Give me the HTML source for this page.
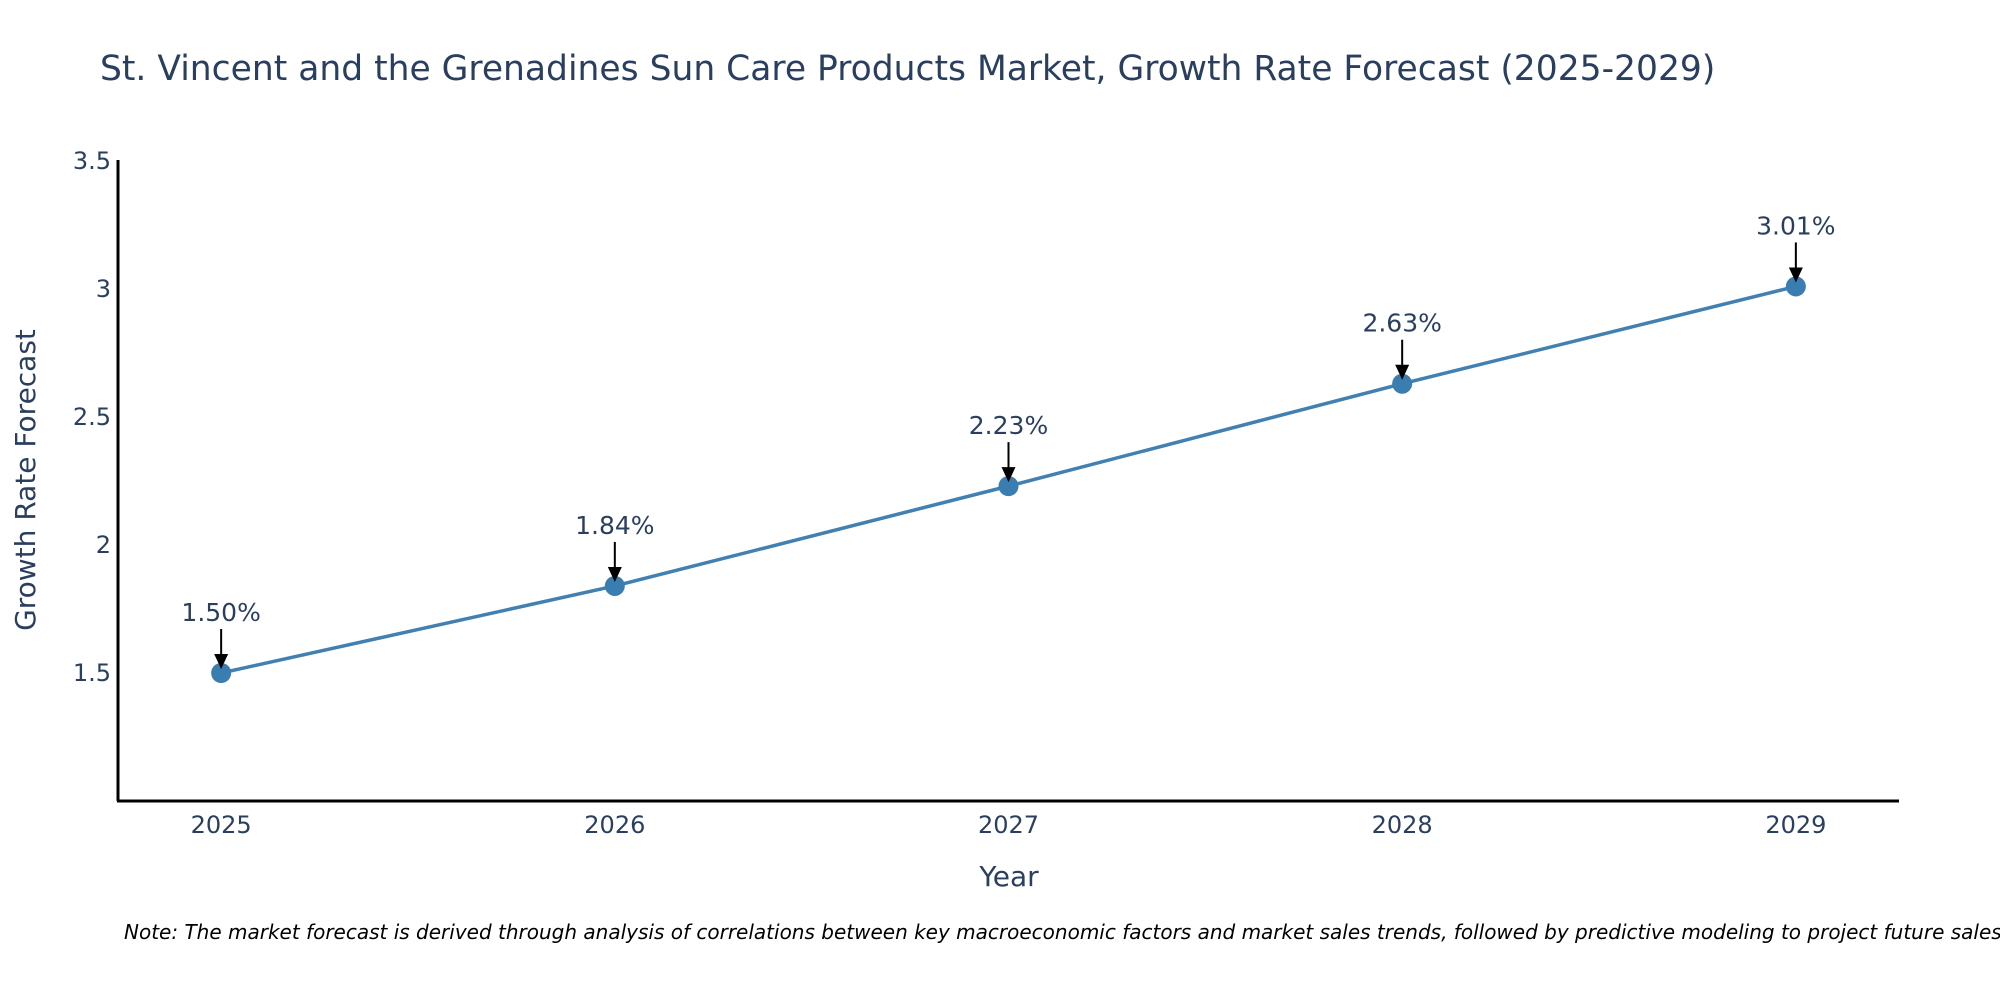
<!DOCTYPE html>
<html><head><meta charset="utf-8">
<style>
html,body{margin:0;padding:0;background:#fff;}
svg{display:block;font-family:"DejaVu Sans","Liberation Sans",sans-serif;}
</style></head>
<body>
<svg id="chart" width="2000" height="1000" viewBox="0 0 2000 1000" xmlns="http://www.w3.org/2000/svg">
<rect width="2000" height="1000" fill="#fff"/>
<text x="100" y="80" font-size="34.5" fill="#2a3f5f">St. Vincent and the Grenadines Sun Care Products Market, Growth Rate Forecast (2025-2029)</text>
<g id="yticks"></g>
<g id="xticks"></g>
<line x1="118" y1="160" x2="118" y2="801" stroke="#000" stroke-width="3"/>
<line x1="117" y1="801" x2="1899" y2="801" stroke="#000" stroke-width="3"/>
<text transform="translate(35,480) rotate(-90)" text-anchor="middle" font-size="28" fill="#2a3f5f">Growth Rate Forecast</text>
<text x="1009" y="886" text-anchor="middle" font-size="28" fill="#2a3f5f">Year</text>
<g id="series"></g>
<g id="annots"></g>
<text x="124" y="939" font-size="20" font-style="italic" fill="#000">Note: The market forecast is derived through analysis of correlations between key macroeconomic factors and market sales trends, followed by predictive modeling to project future sales.</text>
</svg>
<script>
const years = [2025, 2026, 2027, 2028, 2029];
const values = [1.50, 1.84, 2.23, 2.63, 3.01];
const labels = ["1.50%", "1.84%", "2.23%", "2.63%", "3.01%"];
const yTickValues = [1.5, 2, 2.5, 3, 3.5];
const yTickLabels = ["1.5", "2", "2.5", "3", "3.5"];

const NS = "http://www.w3.org/2000/svg";
const X0 = 118, X1 = 1899, XMIN = 2024.738, XMAX = 2029.262;
const Y0 = 801, Y1 = 161, YMIN = 1.0, YMAX = 3.5;
function xs(v){ return X0 + (v - XMIN) / (XMAX - XMIN) * (X1 - X0); }
function ys(v){ return Y0 - (v - YMIN) / (YMAX - YMIN) * (Y0 - Y1); }
function mk(tag, attrs, parent){
  const e = document.createElementNS(NS, tag);
  for (const k in attrs) e.setAttribute(k, attrs[k]);
  parent.appendChild(e); return e;
}
const yt = document.getElementById('yticks');
yTickValues.forEach((v, i) => {
  const t = mk('text', {x: 111, y: ys(v) + 8, 'text-anchor': 'end', 'font-size': 24, fill: '#2a3f5f'}, yt);
  
  
  t.textContent = yTickLabels[i];
});
const xt = document.getElementById('xticks');
years.forEach(y => {
  const t = mk('text', {x: xs(y), y: 833, 'text-anchor': 'middle', 'font-size': 24, fill: '#2a3f5f'}, xt);
  
  
  t.textContent = String(y);
});
const s = document.getElementById('series');
const pts = years.map((y, i) => xs(y) + ',' + ys(values[i])).join(' ');
const pl = mk('polyline', {points: pts, fill: 'none', stroke: '#4180b0', 'stroke-width': 3.5}, s);


years.forEach((y, i) => {
  const c = mk('circle', {cx: xs(y), cy: ys(values[i]), r: 10, fill: '#3a7db0'}, s);
  
  
});
const a = document.getElementById('annots');
years.forEach((y, i) => {
  const px = xs(y), py = ys(values[i]);
  const ln = mk('line', {x1: px, y1: py - 44, x2: px, y2: py - 16, stroke: '#000', 'stroke-width': 2}, a);
  
  
  const hd = mk('polygon', {points: (px-7)+','+(py-19)+' '+(px+7)+','+(py-19)+' '+px+','+(py-4), fill: '#000'}, a);
  
  
  const t = mk('text', {x: px, y: py - 52, 'text-anchor': 'middle', 'font-size': 25, fill: '#2a3f5f'}, a);
  
  
  t.textContent = labels[i];
});
</script>
</body></html>
